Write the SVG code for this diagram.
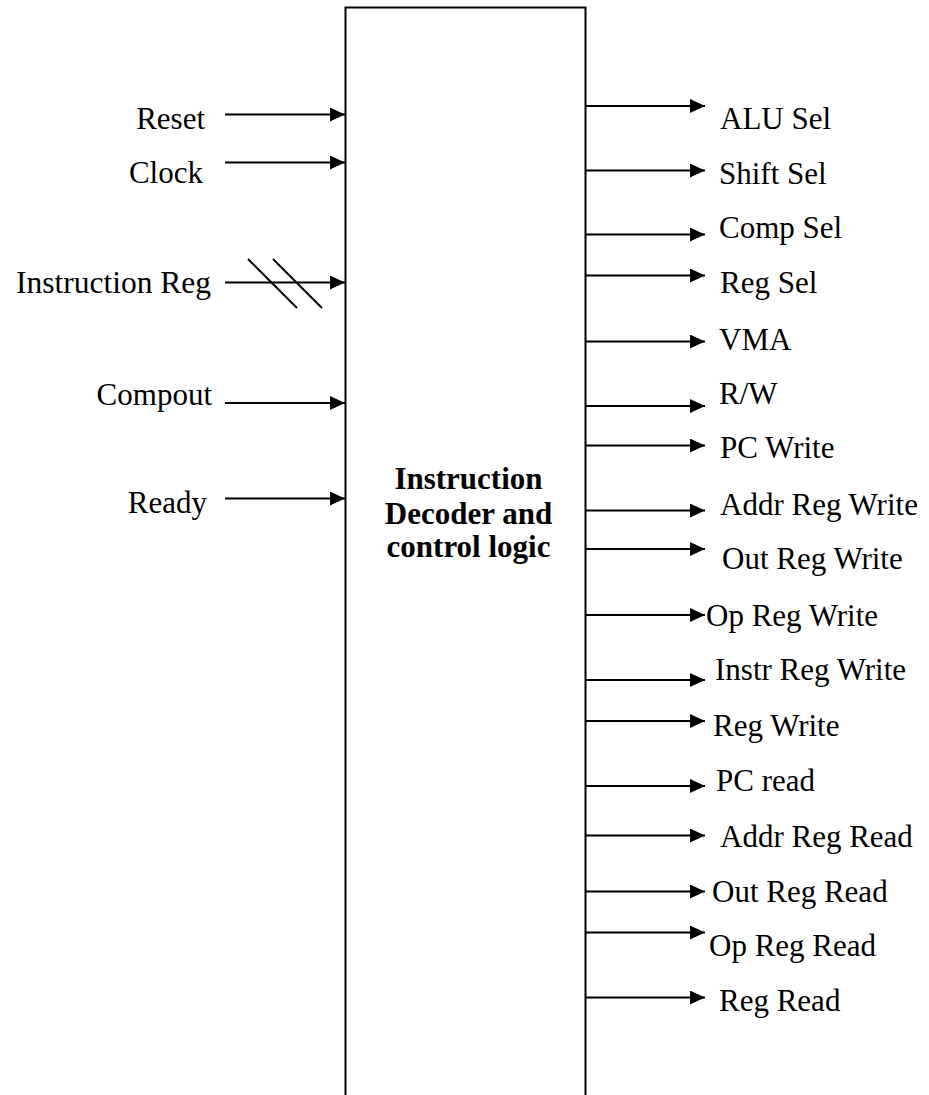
<svg xmlns="http://www.w3.org/2000/svg" width="929" height="1095" viewBox="0 0 929 1095">
<style>
text{font-family:"Liberation Serif","Times New Roman",serif;font-size:31px;fill:#000}
.l{text-anchor:end}
.c{text-anchor:middle;font-weight:bold}
.w{stroke:#000;stroke-width:2;fill:none}
</style>
<defs>
<marker id="ah" markerWidth="15" markerHeight="14" refX="15" refY="7" orient="auto" markerUnits="userSpaceOnUse">
<path d="M0,0 L15,7 L0,14 Z" fill="#000"/>
</marker>
</defs>
<rect width="929" height="1095" fill="#fff"/>
<g id="block">
<path class="w" d="M345.5,1095 V7.5 H585.5 V1095"/>
<text class="c" x="468.5" y="489">Instruction</text>
<text class="c" x="468.5" y="523.5">Decoder and</text>
<text class="c" x="468.5" y="557">control logic</text>
</g>
<g id="inputs">
<text class="l" x="205" y="129">Reset</text>
<text class="l" x="203" y="183">Clock</text>
<text class="l" x="211" y="293" style="font-size:31.5px">Instruction Reg</text>
<text class="l" x="212" y="405">Compout</text>
<text class="l" x="207" y="513">Ready</text>
</g>
<g id="outputs">
<text x="720" y="129">ALU Sel</text>
<text x="719" y="184">Shift Sel</text>
<text x="719" y="238">Comp Sel</text>
<text x="720" y="293">Reg Sel</text>
<text x="719" y="350">VMA</text>
<text x="719" y="404">R/W</text>
<text x="720" y="458">PC Write</text>
<text x="720" y="515">Addr Reg Write</text>
<text x="722" y="569">Out Reg Write</text>
<text x="706" y="626">Op Reg Write</text>
<text x="715" y="680">Instr Reg Write</text>
<text x="713" y="736">Reg Write</text>
<text x="716" y="791">PC read</text>
<text x="720" y="847">Addr Reg Read</text>
<text x="712" y="902">Out Reg Read</text>
<text x="709" y="956">Op Reg Read</text>
<text x="719" y="1011">Reg Read</text>
</g>
<g id="connectors" class="w" marker-end="url(#ah)">
<line x1="225" y1="114.5" x2="345" y2="114.5"/>
<line x1="225" y1="162.5" x2="345" y2="162.5"/>
<line x1="225" y1="282.5" x2="345" y2="282.5"/>
<line x1="225" y1="403" x2="345" y2="403"/>
<line x1="225" y1="498.5" x2="345" y2="498.5"/>
<line x1="586" y1="106" x2="705" y2="106"/>
<line x1="586" y1="170.5" x2="705" y2="170.5"/>
<line x1="586" y1="234.5" x2="705" y2="234.5"/>
<line x1="586" y1="275.5" x2="705" y2="275.5"/>
<line x1="586" y1="341.5" x2="705" y2="341.5"/>
<line x1="586" y1="406" x2="705" y2="406"/>
<line x1="586" y1="445.5" x2="705" y2="445.5"/>
<line x1="586" y1="510.5" x2="705" y2="510.5"/>
<line x1="586" y1="549" x2="705" y2="549"/>
<line x1="586" y1="615" x2="705" y2="615"/>
<line x1="586" y1="680" x2="705" y2="680"/>
<line x1="586" y1="721" x2="705" y2="721"/>
<line x1="586" y1="786" x2="705" y2="786"/>
<line x1="586" y1="835.5" x2="705" y2="835.5"/>
<line x1="586" y1="891.5" x2="705" y2="891.5"/>
<line x1="586" y1="932.5" x2="705" y2="932.5"/>
<line x1="586" y1="997.5" x2="705" y2="997.5"/>
</g>
<g id="bus-slashes" class="w" stroke-width="1.5">
<line x1="248" y1="259" x2="297" y2="308"/>
<line x1="273" y1="259" x2="322" y2="308"/>
</g>
</svg>
